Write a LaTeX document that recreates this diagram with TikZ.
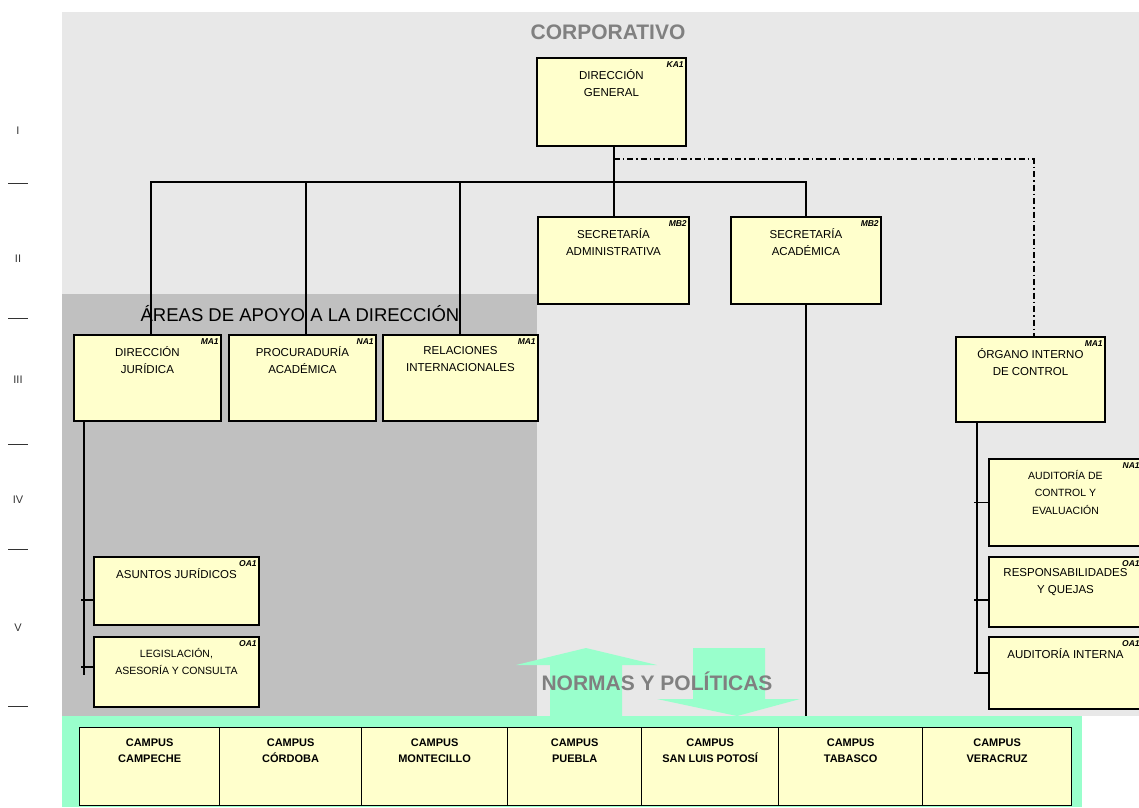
\documentclass[tikz,border=0pt]{standalone}
\usepackage{fontspec}
\setmainfont{Liberation Sans}
\definecolor{bgl}{HTML}{E8E8E8}
\definecolor{bgd}{HTML}{C0C0C0}
\definecolor{mint}{HTML}{99FFCC}
\definecolor{boxy}{HTML}{FFFFCC}
\definecolor{titg}{HTML}{808080}
\tikzset{
  ybox/.style={draw=black, line width=1.9pt, fill=boxy, rectangle, inner sep=0pt},
  cbox/.style={draw=black, line width=1.3pt, fill=boxy, rectangle, inner sep=0pt},
  boxtext/.style={font=\fontsize{11.5}{17.5}\selectfont, align=center, inner sep=0pt},
  camptext/.style={font=\fontsize{11}{16}\selectfont\bfseries, align=center, inner sep=0pt},
  tagtext/.style={font=\fontsize{8.5}{9}\selectfont\bfseries\itshape, inner sep=0pt},
  conn/.style={draw=black, line width=1.6pt},
  dashconn/.style={draw=black, line width=1.3pt, dash pattern=on 6pt off 3pt on 1.5pt off 3pt},
  roman/.style={font=\fontsize{11}{12}\selectfont, text=black!80, inner sep=0pt},
  sep/.style={draw=black!80, line width=0.8pt},
  arr/.style={fill=mint, draw=none}
}
\newcommand{\orgbox}[7]{%
  \pgfmathsetmacro{\bw}{#4-#2}\pgfmathsetmacro{\bh}{#5-#3}%
  \node[ybox, minimum width=\bw pt, minimum height=\bh pt, anchor=north west] (#1) at (#2,#3) {};
  \node[boxtext, anchor=north] (#1-t) at ([yshift=-12pt]#1.north) {#6};
  \node[tagtext, anchor=north east] (#1-g) at ([xshift=-3pt,yshift=-4pt]#1.north east) {#7};
}
\newcommand{\campbox}[4]{%
  \pgfmathsetmacro{\bw}{#3-#2}%
  \node[cbox, minimum width=\bw pt, minimum height=78pt, anchor=north west] (#1) at (#2,727) {};
  \node[camptext, anchor=north] (#1-t) at ([yshift=-12pt]#1.north) {#4};
}
\begin{document}
\begin{tikzpicture}[x=1pt,y=-1pt]
\useasboundingbox (0,0) rectangle (1139,807);
\clip (0,0) rectangle (1139,807);
% backgrounds
\fill[bgl] (62,12) rectangle (1139,716);
\fill[bgd] (62,294) rectangle (537,716);
\fill[mint] (62,716) rectangle (1082,807);
% titles
\node[font=\fontsize{21}{24}\selectfont\bfseries, text=titg] (corp) at (608,32) {CORPORATIVO};
\node[font=\fontsize{18.5}{22}\selectfont] (apoyo) at (300,314) {ÁREAS DE APOYO A LA DIRECCIÓN};
% roman levels
\node[roman] (r1) at (18,131) {I};
\node[roman] (r2) at (18,259) {II};
\node[roman] (r3) at (18,380) {III};
\node[roman] (r4) at (18,500) {IV};
\node[roman] (r5) at (18,628) {V};
\foreach \yy in {183,318,444,549,706} \draw[sep] (8,\yy) -- (28,\yy);
% boxes
\orgbox{dg}{536}{57}{685}{145}{DIRECCIÓN\\GENERAL}{KA1}
\orgbox{sa}{537}{216}{688}{303}{SECRETARÍA\\ADMINISTRATIVA}{MB2}
\orgbox{sac}{730}{216}{880}{303}{SECRETARÍA\\ACADÉMICA}{MB2}
\orgbox{dj}{73}{334}{220}{420}{DIRECCIÓN\\JURÍDICA}{MA1}
\orgbox{pa}{228}{334}{375}{420}{PROCURADURÍA\\ACADÉMICA}{NA1}
\orgbox{ri}{382}{334}{537}{420}{RELACIONES\\INTERNACIONALES}{MA1}
\orgbox{oic}{955}{336}{1104}{421}{ÓRGANO INTERNO\\DE CONTROL}{MA1}
\orgbox{ace}{988}{458}{1141}{545}{{\fontsize{10.5}{16}\selectfont AUDITORÍA DE}\\{\fontsize{10.5}{16}\selectfont CONTROL Y}\\{\fontsize{10.5}{16}\selectfont EVALUACIÓN}}{NA1}
\orgbox{rq}{988}{556}{1141}{626}{RESPONSABILIDADES\\Y QUEJAS}{OA1}
\orgbox{ai}{988}{636}{1141}{708}{AUDITORÍA INTERNA}{OA1}
\orgbox{aj}{93}{556}{258}{624}{ASUNTOS JURÍDICOS}{OA1}
\orgbox{lac}{93}{636}{258}{706}{{\fontsize{10.5}{16}\selectfont LEGISLACIÓN,}\\{\fontsize{10.5}{16}\selectfont ASESORÍA Y CONSULTA}}{OA1}
% connectors
\coordinate (bus) at (0,182);
\coordinate (dd) at (0,159);
\coordinate (bottom) at (0,716);
\path[conn] ([xshift=0.5pt]dg.south -| sa.north) -- ([xshift=0.5pt]sa.north);
\path[conn] ([xshift=3.5pt]dj.north) -- ([xshift=3.5pt]dj.north |- bus) -- (sac.north |- bus) -- (sac.north);
\path[conn] ([xshift=3.5pt]pa.north) -- ([xshift=3.5pt]pa.north |- bus);
\path[conn] ([xshift=-0.5pt]ri.north) -- ([xshift=-0.5pt]ri.north |- bus);
\path[dashconn] ([xshift=0.5pt]sa.north |- dd) -- ([xshift=3.5pt]oic.north |- dd) -- ([xshift=3.5pt]oic.north);
% left spine
\path[conn] ([xshift=11pt]dj.south west) -- ([xshift=11pt,yshift=-39pt]lac.north west -| dj.south west);
\path[conn] ([xshift=-12pt,yshift=-44pt]aj.north west) -- ([yshift=-44pt]aj.north west);
\path[conn] ([xshift=-12pt,yshift=-31pt]lac.north west) -- ([yshift=-31pt]lac.north west);
% right spine
\path[conn] ([xshift=22pt]oic.south west) -- ([xshift=22pt]oic.south west |- ai.west);
\path[conn] ([xshift=-14pt]ace.west) -- (ace.west);
\path[conn] ([xshift=-14pt,yshift=-44pt]rq.north west) -- ([yshift=-44pt]rq.north west);
\path[conn] ([xshift=-14pt]ai.west) -- (ai.west);
% arrows
\fill[arr] (550,716) -- (550,665) -- (516,665) -- (586,648) -- (657,665) -- (622,665) -- (622,716) -- cycle;
\fill[arr] (693,648) -- (765,648) -- (765,699) -- (800,699) -- (737,716) -- (657,699) -- (693,699) -- cycle;
\path[conn] (sac.south) -- (sac.south |- bottom);
\node[font=\fontsize{21}{24}\selectfont\bfseries, text=titg] (normas) at (657,681) {NORMAS Y POLÍTICAS};
% campus
\campbox{c1}{79}{219}{CAMPUS\\CAMPECHE}
\campbox{c2}{219}{361}{CAMPUS\\CÓRDOBA}
\campbox{c3}{361}{507}{CAMPUS\\MONTECILLO}
\campbox{c4}{507}{641}{CAMPUS\\PUEBLA}
\campbox{c5}{641}{778}{CAMPUS\\SAN LUIS POTOSÍ}
\campbox{c6}{778}{922}{CAMPUS\\TABASCO}
\campbox{c7}{922}{1071}{CAMPUS\\VERACRUZ}
\end{tikzpicture}
\end{document}
